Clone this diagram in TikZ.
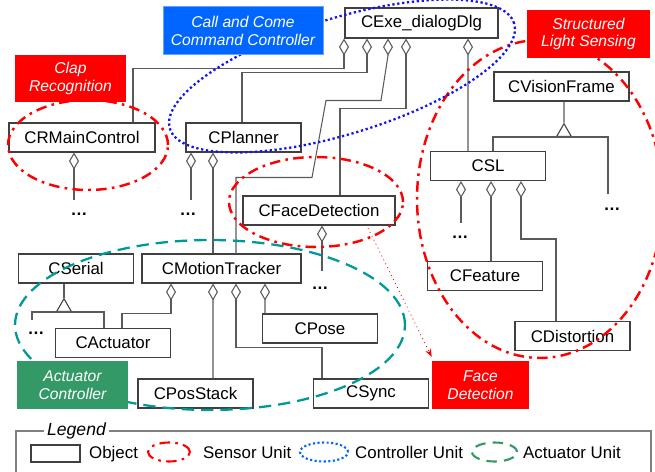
\documentclass[tikz,border=0pt]{standalone}
\usepackage{fontspec}
\setmainfont{Liberation Sans}
\usetikzlibrary{arrows.meta,shapes.geometric,positioning,calc}
\definecolor{boxgray}{RGB}{64,64,64}
\definecolor{linegray}{RGB}{90,90,90}
\definecolor{sensorred}{RGB}{255,0,0}
\definecolor{ctrlblue}{RGB}{20,20,240}
\definecolor{callblue}{RGB}{0,102,255}
\definecolor{actteal}{RGB}{0,153,153}
\definecolor{actgreen}{RGB}{51,153,102}
\tikzset{%
  object/.style     = {draw=boxgray, fill=white, line width=0.6pt,
    minimum width=2.3cm, minimum height=0.58cm, inner sep=0pt},
  unitlabel/.style  = {text=white, align=center,
    font=\fontsize{8.9}{10.2}\selectfont\itshape,
    minimum height=0.95cm, inner sep=0pt}, % Unit caption
  sensorunit/.style = {draw=sensorred, line width=1.4pt,
    dash pattern=on 6pt off 3pt on 1.5pt off 3pt},
  ctrlunit/.style   = {draw=ctrlblue, line width=1.3pt,
    dash pattern=on 1.3pt off 1.5pt},
  actunit/.style    = {draw=actteal, line width=1.3pt,
    dash pattern=on 7pt off 4pt}
}

\begin{document}
\begin{tikzpicture}[
    x=0.02cm, y=-0.02cm,
    font=\fontsize{9.6}{11}\selectfont,
    % Define the styles for links
    conn/.style={draw=linegray, line width=0.6pt},
    agg/.style={conn, {Diamond[open, length=0.34cm, width=0.2cm]}-},
    tri/.style={draw=boxgray, fill=white, line width=0.6pt, regular polygon,
      regular polygon sides=3, minimum size=0.34cm, inner sep=0pt, anchor=south},
    ]
    \useasboundingbox (0,0) rectangle (655,472);

    % Objects
    \node[object, minimum width=3.06cm, minimum height=0.6cm] (cexe) at (421.5,23) {CExe\_dialogDlg};
    \node[object, minimum width=2.92cm] (crmain) at (82,137.5) {CRMainControl};
    \node[object] (cplanner) at (243.5,137.5) {CPlanner};
    \node[object, minimum width=3.04cm] (cfacedet) at (319,210.5) {CFaceDetection};
    \node[object] (cserial) at (76,268.5) {CSerial};
    \node[object, minimum width=3.18cm] (cmotion) at (221.5,268.5) {CMotionTracker};
    \node[object] (cactuator) at (113,343) {CActuator};
    \node[object] (cpose) at (320,328.5) {CPose};
    \node[object] (cposstack) at (195.5,393.5) {CPosStack};
    \node[object] (csync) at (371,393.5) {CSync};
    \node[object, minimum width=2.7cm] (cvision) at (561.5,86.5) {CVisionFrame};
    \node[object] (csl) at (488,166) {CSL};
    \node[object] (cfeature) at (485,276) {CFeature};
    \node[object] (cdistortion) at (572.5,336) {CDistortion};

    % Further members
    \foreach \n/\x/\y in {M/79/214, P/188/214, F/320/288, S/36/333, C/460/237, V/612/209}
        \node[inner sep=0pt] (dots\n) at (\x,\y) {\textbf{\ldots}};
    \coordinate (sfree) at (32,320);
    \coordinate (vfree) at (608,194);

    % Inheritance
    \node[tri] (triS) at (64,312) {};
    \node[tri] (triV) at (564,137) {};
    \draw[conn] ($(cserial.south)+(-12,0)$) -- (triS.north);
    \draw[conn] ($(cactuator.north)+(-9,0)$) |- (triS.south) -| (sfree);
    \draw[conn] ($(cvision.south)+(2.5,0)$) -- (triV.north);
    \draw[conn] ($(csl.north)+(5,0)$) |- (triV.south) -| (vfree);

    % Aggregation of the dialog
    \draw[agg] ($(cexe.south)+(-77.5,0)$) -- ++(0,30) -| ($(crmain.north)+(51,0)$);
    \draw[agg] ($(cexe.south)+(-54.5,0)$) -- ++(0,34) -| ($(cplanner.north)+(-1.5,0)$);
    \draw[agg] ($(cexe.south)+(-33.5,0)$) -- ++(0,17) -- ++(-7,45) -- ++(-55,0)
        -- ++(-14,77) -| ($(cmotion.north)+(14.5,0)$);
    \draw[agg] ($(cexe.south)+(-15.5,0)$) -- ++(0,70) -| ($(cfacedet.north)+(21,0)$);
    \draw[agg] ($(cexe.south)+(46.5,0)$) -- ($(csl.north)+(-20,0)$);

    % Aggregation of the units
    \draw[agg] ($(crmain.south)+(-8,0)$) -- ($(dotsM.north)+(-5,-12)$);
    \draw[agg] ($(cplanner.south)+(-52.5,0)$) -- ($(dotsP.north)+(3,-12)$);
    \draw[agg] ($(cplanner.south)+(-30.5,0)$) -- ($(cmotion.north)+(-8.5,0)$);
    \draw[agg] ($(cfacedet.south)+(3,0)$) -- ($(dotsF.north)+(2,-15)$);
    \draw[agg] ($(cmotion.south)+(-50.5,0)$) -- ++(0,30) -| ($(cactuator.north)+(9,0)$);
    \draw[agg] ($(cmotion.south)+(-8.5,0)$) -- ($(cposstack.north)+(17.5,0)$);
    \draw[agg] ($(cmotion.south)+(14.5,0)$) -- ++(0,64) -| ($(csync.north)+(-49,0)$);
    \draw[agg] ($(cmotion.south)+(43.5,0)$) -- ($(cpose.north)+(-55,0)$);
    \draw[agg] ($(csl.south)+(-27,0)$) -- ($(dotsC.north)+(1,-12)$);
    \draw[agg] ($(csl.south)+(3,0)$) -- ($(cfeature.north)+(6,0)$);
    \draw[agg] ($(csl.south)+(33,0)$) -- ++(0,58) -| ($(cdistortion.north)+(-16.5,0)$);

    % Units
    \draw[sensorunit] (88,145) ellipse [x radius=1.6cm, y radius=0.9cm];
    \draw[sensorunit] (316,202) ellipse [x radius=1.74cm, y radius=0.9cm];
    \draw[sensorunit] (540,199) ellipse [x radius=2.46cm, y radius=3.18cm];
    \draw[ctrlunit] (342,76) ellipse [x radius=3.6cm, y radius=1.16cm, rotate=17];
    \draw[actunit] (210,325) ellipse [x radius=3.9cm, y radius=1.7cm];

    % Captions
    \node[unitlabel, fill=callblue, draw=callblue!60!white, minimum width=3.2cm] (lblcall) at (243,30.5) {Call and Come\\Command Controller};
    \node[unitlabel, fill=sensorred, minimum width=2.22cm] (lblclap) at (70.5,78.5) {Clap\\Recognition};
    \node[unitlabel, fill=sensorred, minimum width=2.46cm] (lblsls) at (588.5,34) {Structured\\Light Sensing};
    \node[unitlabel, fill=sensorred, minimum width=1.94cm] (lblface) at (480.5,385) {Face\\Detection};
    \node[unitlabel, fill=actgreen, minimum width=2.22cm] (lblact) at (72.5,385) {Actuator\\Controller};
    \coordinate (fdtail) at (368,228);
    \draw[sensorred, line width=0.5pt, dotted, -{Stealth[length=0.16cm, width=0.12cm]}] (fdtail) -- ($(lblface.north west)+(0,-4)$);

    % Legend
    \draw[draw=gray, line width=0.6pt] (16,480) |- (651,431) -- (651,480);
    \node[fill=white, font=\itshape, inner sep=2pt] (legtitle) at (76.5,431) {Legend};
    \node[object, minimum width=0.98cm, minimum height=0.34cm] (legobj) at (55.5,453.5) {};
    \node[anchor=west] (legobjtxt) at (83,454) {Object};
    \draw[sensorunit, line width=1.2pt] (169,452) ellipse [x radius=0.42cm, y radius=0.19cm];
    \node[anchor=west] (legsentxt) at (197,452) {Sensor Unit};
    \draw[draw=callblue, line width=1.2pt, dash pattern=on 1.2pt off 1.4pt] (324,452) ellipse [x radius=0.48cm, y radius=0.19cm];
    \node[anchor=west] (legctrltxt) at (349,452) {Controller Unit};
    \draw[draw=actgreen, line width=1.2pt, dash pattern=on 6pt off 4pt] (494.5,452) ellipse [x radius=0.45cm, y radius=0.19cm];
    \node[anchor=west] (legacttxt) at (517,452) {Actuator Unit};

\end{tikzpicture}
\end{document}
